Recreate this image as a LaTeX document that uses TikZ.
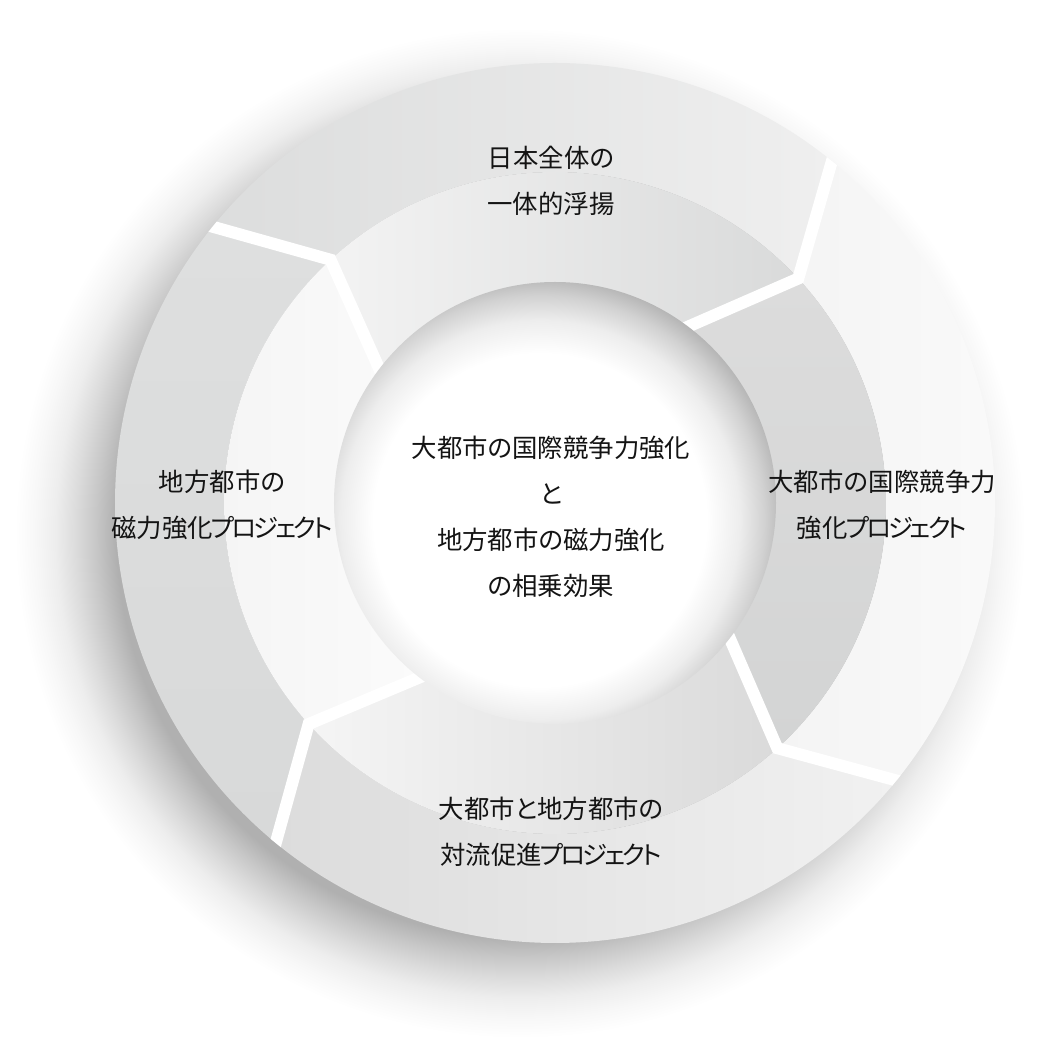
\documentclass[tikz,border=0pt]{standalone}
\usepackage{fontspec}
\newfontfamily\jpfont[RawFeature=+palt]{Noto Sans CJK JP}
\usetikzlibrary{calc}
\newcommand\pjk{\kern-1.5pt プ\kern-3pt ロ\kern-3pt ジ\kern-3pt ェ\kern-3pt ク\kern-3pt ト}
\pgfdeclareradialshading{ringshadow}{\pgfpoint{0bp}{0bp}}{color(0bp)=(black!31); color(20bp)=(black!31); color(21bp)=(black!22); color(22bp)=(black!14); color(23bp)=(black!7); color(24bp)=(black!3); color(25bp)=(white); color(50bp)=(white)}
\pgfdeclareradialshading{holeshade}{\pgfpoint{0bp}{0bp}}{color(0bp)=(white); color(16bp)=(white); color(19.2bp)=(black!7); color(21.6bp)=(black!18); color(23.6bp)=(black!30); color(25bp)=(black!35); color(50bp)=(black!35)}
\definecolor{topoutL}{HTML}{DCDDDD}
\definecolor{topoutR}{HTML}{EFEFEF}
\definecolor{topinL}{HTML}{F3F3F3}
\definecolor{topinR}{HTML}{D9DADA}
\definecolor{rgtoutL}{HTML}{F4F4F4}
\definecolor{rgtoutR}{HTML}{FAFAFA}
\definecolor{rgtinT}{HTML}{DCDCDC}
\definecolor{rgtinB}{HTML}{D3D4D4}
\definecolor{botinL}{HTML}{F5F5F5}
\definecolor{botinR}{HTML}{DADADA}
\definecolor{botoutL}{HTML}{DCDCDC}
\definecolor{botoutR}{HTML}{F1F1F1}
\definecolor{lftoutT}{HTML}{DEDFDF}
\definecolor{lftoutB}{HTML}{D8D9D9}
\definecolor{lftinL}{HTML}{F4F4F4}
\definecolor{lftinR}{HTML}{FBFBFB}
\definecolor{txt}{HTML}{141414}
\begin{document}
\begin{tikzpicture}[x=1pt,y=1pt,
  lbl/.style={font=\jpfont\fontsize{25.4pt}{46pt}\selectfont, align=center, text=txt, inner sep=0pt},
  gapline/.style={draw=white, line width=12pt, line join=miter}]
\useasboundingbox (-555,-553) rectangle (501,503);
\fill[white] (-555,-553) rectangle (501,503);
% drop shadow
\shade[shading=ringshadow] (-35,-30) circle[radius=505pt];
% gap geometry
\coordinate (O1) at (141.1:440pt); \coordinate (J1) at (132.7:331pt); \coordinate (I1) at (142.8:220pt);
\coordinate (O2) at (51.0:440pt);  \coordinate (J2) at (42.7:331pt);  \coordinate (I2) at (53.1:220pt);
\coordinate (O3) at (-39.1:440pt); \coordinate (J3) at (-47.8:331pt); \coordinate (I3) at (-37.6:220pt);
\coordinate (O4) at (230.6:440pt); \coordinate (J4) at (221.9:331pt); \coordinate (I4) at (232.3:220pt);
% top segment
\shade[left color=topoutL, right color=topoutR] (J2) -- (O2) arc[start angle=51.0, end angle=141.1, radius=440pt] -- (J1) arc[start angle=132.7, end angle=42.7, radius=331pt] -- cycle;
\shade[left color=topinL, right color=topinR] (J1) arc[start angle=132.7, end angle=42.7, radius=331pt] -- (I2) arc[start angle=53.1, end angle=142.8, radius=220pt] -- cycle;
% right segment
\shade[left color=rgtoutL, right color=rgtoutR] (J3) -- (O3) arc[start angle=-39.1, end angle=51.0, radius=440pt] -- (J2) arc[start angle=42.7, end angle=-47.8, radius=331pt] -- cycle;
\shade[top color=rgtinT, bottom color=rgtinB] (J2) arc[start angle=42.7, end angle=-47.8, radius=331pt] -- (I3) arc[start angle=-37.6, end angle=53.1, radius=220pt] -- cycle;
% bottom segment
\shade[left color=botoutL, right color=botoutR] (J4) -- (O4) arc[start angle=-129.4, end angle=-39.1, radius=440pt] -- (J3) arc[start angle=-47.8, end angle=-138.1, radius=331pt] -- cycle;
\shade[left color=botinL, right color=botinR] (J3) arc[start angle=-47.8, end angle=-138.1, radius=331pt] -- (I4) arc[start angle=-127.7, end angle=-37.6, radius=220pt] -- cycle;
% left segment
\shade[top color=lftoutT, bottom color=lftoutB] (J1) -- (O1) arc[start angle=141.1, end angle=230.6, radius=440pt] -- (J4) arc[start angle=221.9, end angle=132.7, radius=331pt] -- cycle;
\shade[left color=lftinL, right color=lftinR] (J4) arc[start angle=221.9, end angle=132.7, radius=331pt] -- (I1) arc[start angle=142.8, end angle=232.3, radius=220pt] -- cycle;
% white gaps
\begin{scope}
\clip (0,0) circle[radius=440pt];
\draw[gapline] ($(J1)!1.2!(O1)$) -- (J1) -- ($(J1)!1.3!(I1)$);
\draw[gapline] ($(J2)!1.2!(O2)$) -- (J2) -- ($(J2)!1.3!(I2)$);
\draw[gapline] ($(J3)!1.2!(O3)$) -- (J3) -- ($(J3)!1.3!(I3)$);
\draw[gapline] ($(J4)!1.2!(O4)$) -- (J4) -- ($(J4)!1.3!(I4)$);
\end{scope}
% central hole
\begin{scope}
\clip (0,0) circle[radius=221pt];
\shade[shading=holeshade] (-15,-17) circle[radius=260pt];
\end{scope}
% labels
\node[lbl] (tTop) at (-4,322) {日本全体の\\一体的浮揚};
\node[lbl] (tRight) at (327,-2) {大都市の国際競争力\\強化\pjk};
\node[lbl] (tLeft) at (-333,-1.5) {地方都市の\\磁力強化\pjk};
\node[lbl] (tBottom) at (-4,-328.5) {大都市と地方都市の\\対流促進\pjk};
\node[lbl] (tCenter) at (-4,-13.5) {大都市の国際競争力強化\\と\\地方都市の磁力強化\\の相乗効果};
\end{tikzpicture}
\end{document}
